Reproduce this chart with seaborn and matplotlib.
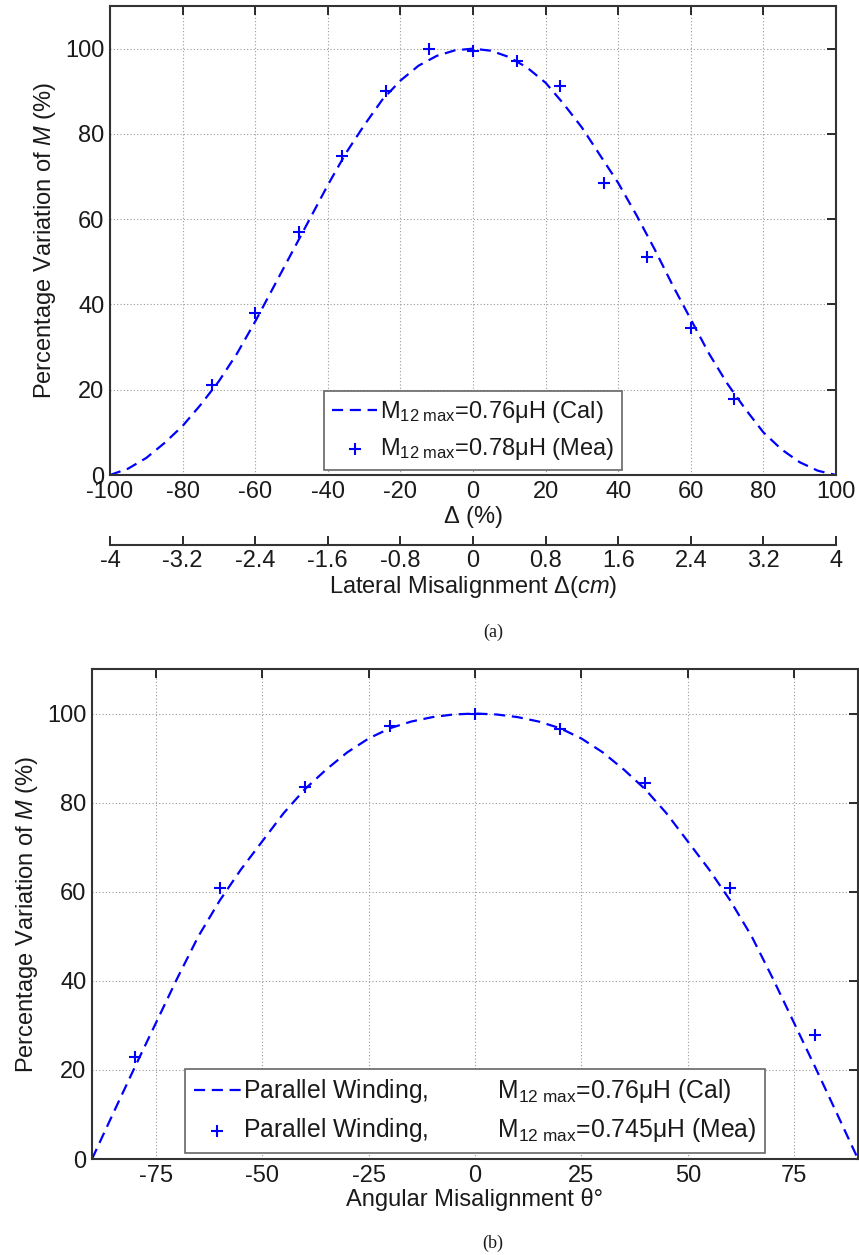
import matplotlib
matplotlib.use("Agg")
import matplotlib.pyplot as plt
import seaborn as sns

# ---- data ----
# (a) lateral misalignment, percent of coil size
lat_calc_x = [-100, -95, -90, -85, -80, -75, -70, -65, -60, -55, -50, -45, -40, -35, -30, -25, -20,
              -15, -10, -5, 0, 5, 10, 15, 20, 25, 30, 35, 40, 45, 50, 55, 60, 65, 70, 75, 80,
              85, 90, 95, 100]
lat_calc_y = [0, 1.5, 4, 7.5, 11.5, 16.5, 22, 28.5, 36, 44, 52, 60, 68, 75.5, 82, 88, 92.5,
              96, 98.3, 99.6, 100, 99.5, 98, 95.5, 92, 87, 81.5, 75, 68.5, 61, 53, 44.5, 36.5,
              28.5, 21.5, 15.5, 10, 6, 3, 1, 0]
lat_meas_x = [-72, -60, -48, -36, -24, -12, 0, 12, 24, 36, 48, 60, 72]
lat_meas_y = [21.1, 38, 57, 74.9, 90.1, 100, 99.5, 97, 91.3, 68.5, 51.2, 34.5, 17.8]

lat_pct_ticks = [-100, -80, -60, -40, -20, 0, 20, 40, 60, 80, 100]
lat_cm_ticks = [-4, -3.2, -2.4, -1.6, -0.8, 0, 0.8, 1.6, 2.4, 3.2, 4]
lat_cm_labels = ["-4", "-3.2", "-2.4", "-1.6", "-0.8", "0", "0.8", "1.6", "2.4", "3.2", "4"]

# (b) angular misalignment, degrees
ang_calc_x = [-90, -85, -80, -75, -70, -65, -60, -55, -50, -45, -40, -35, -30, -25, -20, -15,
              -10, -5, 0, 5, 10, 15, 20, 25, 30, 35, 40, 45, 50, 55, 60, 65, 70, 75, 80, 85, 90]
ang_calc_y = [0, 10.3, 20.5, 30.5, 40.5, 50, 58, 65, 71.3, 77.6, 83, 87.4, 91.3, 94.4, 96.7, 98.2,
              99.2, 99.8, 100, 99.8, 99.2, 98.2, 96.7, 94.4, 91.3, 87.4, 83, 77.6, 71.3, 65, 58,
              50, 40.5, 30.5, 20.5, 10.3, 0]
ang_meas_x = [-80, -60, -40, -20, 0, 20, 40, 60, 80]
ang_meas_y = [22.9, 60.9, 83.6, 97.3, 100, 96.6, 84.5, 60.9, 27.9]
ang_ticks = [-75, -50, -25, 0, 25, 50, 75]

y_ticks = [0, 20, 40, 60, 80, 100]

sns.set_theme(style="white")
plt.rcParams["font.family"] = ["Liberation Sans", "DejaVu Sans"]
plt.rcParams["mathtext.fontset"] = "custom"
plt.rcParams["mathtext.rm"] = "Liberation Sans"
plt.rcParams["mathtext.it"] = "Liberation Sans:italic"
plt.rcParams["axes.unicode_minus"] = False

FS = 17
BLUE = (0, 0, 1)
DASH = (0, (5, 3))
TXT = "#1a1a1a"

fig = plt.figure(figsize=(8.59, 12.55), dpi=100)
ax1 = fig.add_axes([110 / 859, 1 - 475 / 1255, 726 / 859, 469 / 1255])
ax2 = fig.add_axes([92 / 859, 1 - 1159 / 1255, 766 / 859, 490 / 1255])


def style_axes(ax):
    ax.grid(True, linestyle=(0, (1, 2)), color="#9a9a9a", linewidth=0.8)
    ax.tick_params(direction="in", length=6.5, width=1.3, top=True, right=True,
                   labelsize=FS, colors=TXT, pad=4)
    for s in ax.spines.values():
        s.set_color("#333333")
        s.set_linewidth(1.5)
    ax.set_ylim(0, 110)
    ax.set_yticks(y_ticks)


def make_legend(ax, y0, fs):
    leg = ax.legend(loc="lower center", bbox_to_anchor=(0.5, y0), fontsize=fs, frameon=True,
                    fancybox=False, framealpha=1, edgecolor="#666666", handlelength=1.9,
                    scatterpoints=1, labelspacing=0.45, borderpad=0.35, handletextpad=0.1,
                    borderaxespad=0)
    leg.get_frame().set_linewidth(1.2)
    for t in leg.get_texts():
        t.set_color(TXT)
    return leg


# ---- panel (a) ----
sns.lineplot(x=lat_calc_x, y=lat_calc_y, ax=ax1, color=BLUE, linestyle=DASH, linewidth=1.6,
             label=r"M$_{\mathregular{12\ max}}$=0.76μH (Cal)")
sns.scatterplot(x=lat_meas_x, y=lat_meas_y, ax=ax1, color=BLUE, marker="+", s=80, linewidth=1.5,
                label=r"M$_{\mathregular{12\ max}}$=0.78μH (Mea)")
style_axes(ax1)
ax1.set_xlim(-100, 100)
ax1.set_xticks(lat_pct_ticks)
ax1.set_xlabel(r"Δ $\mathit{(\%)}$", fontsize=FS, labelpad=1, color=TXT)
ax1.set_ylabel(r"Percentage Variation of $\mathit{M}$ (%)", fontsize=FS, labelpad=5, color=TXT)
make_legend(ax1, 0.01, FS)

sec = ax1.secondary_xaxis(-0.149, functions=(lambda p: p * 0.04, lambda c: c / 0.04))
sec.set_xticks(lat_cm_ticks, labels=lat_cm_labels)
sec.tick_params(direction="in", length=6.5, width=1.3, labelsize=FS, colors=TXT, pad=4)
sec.spines["bottom"].set_linewidth(1.5)
sec.spines["bottom"].set_color("#333333")
sec.set_xlabel(r"Lateral Misalignment Δ$\mathit{(cm)}$", fontsize=FS, labelpad=1, color=TXT)

# ---- panel (b) ----
sns.lineplot(x=ang_calc_x, y=ang_calc_y, ax=ax2, color=BLUE, linestyle=DASH, linewidth=1.6,
             label=r"Parallel Winding,          M$_{\mathregular{12\ max}}$=0.76μH (Cal)")
sns.scatterplot(x=ang_meas_x, y=ang_meas_y, ax=ax2, color=BLUE, marker="+", s=80, linewidth=1.5,
                label=r"Parallel Winding,          M$_{\mathregular{12\ max}}$=0.745μH (Mea)")
style_axes(ax2)
ax2.set_xlim(-90, 90)
ax2.set_xticks(ang_ticks)
ax2.set_xlabel("Angular Misalignment θ°", fontsize=FS, labelpad=1, color=TXT)
ax2.set_ylabel(r"Percentage Variation of $\mathit{M}$ (%)", fontsize=FS, labelpad=5, color=TXT)
make_legend(ax2, 0.012, 17.8)

fig.text(493 / 859, 1 - 632 / 1255, "(a)", family="Liberation Serif", fontsize=13,
         ha="center", va="center", color=TXT)
fig.text(493 / 859, 1 - 1243 / 1255, "(b)", family="Liberation Serif", fontsize=13,
         ha="center", va="center", color=TXT)

fig.savefig("out.png", dpi=100)
